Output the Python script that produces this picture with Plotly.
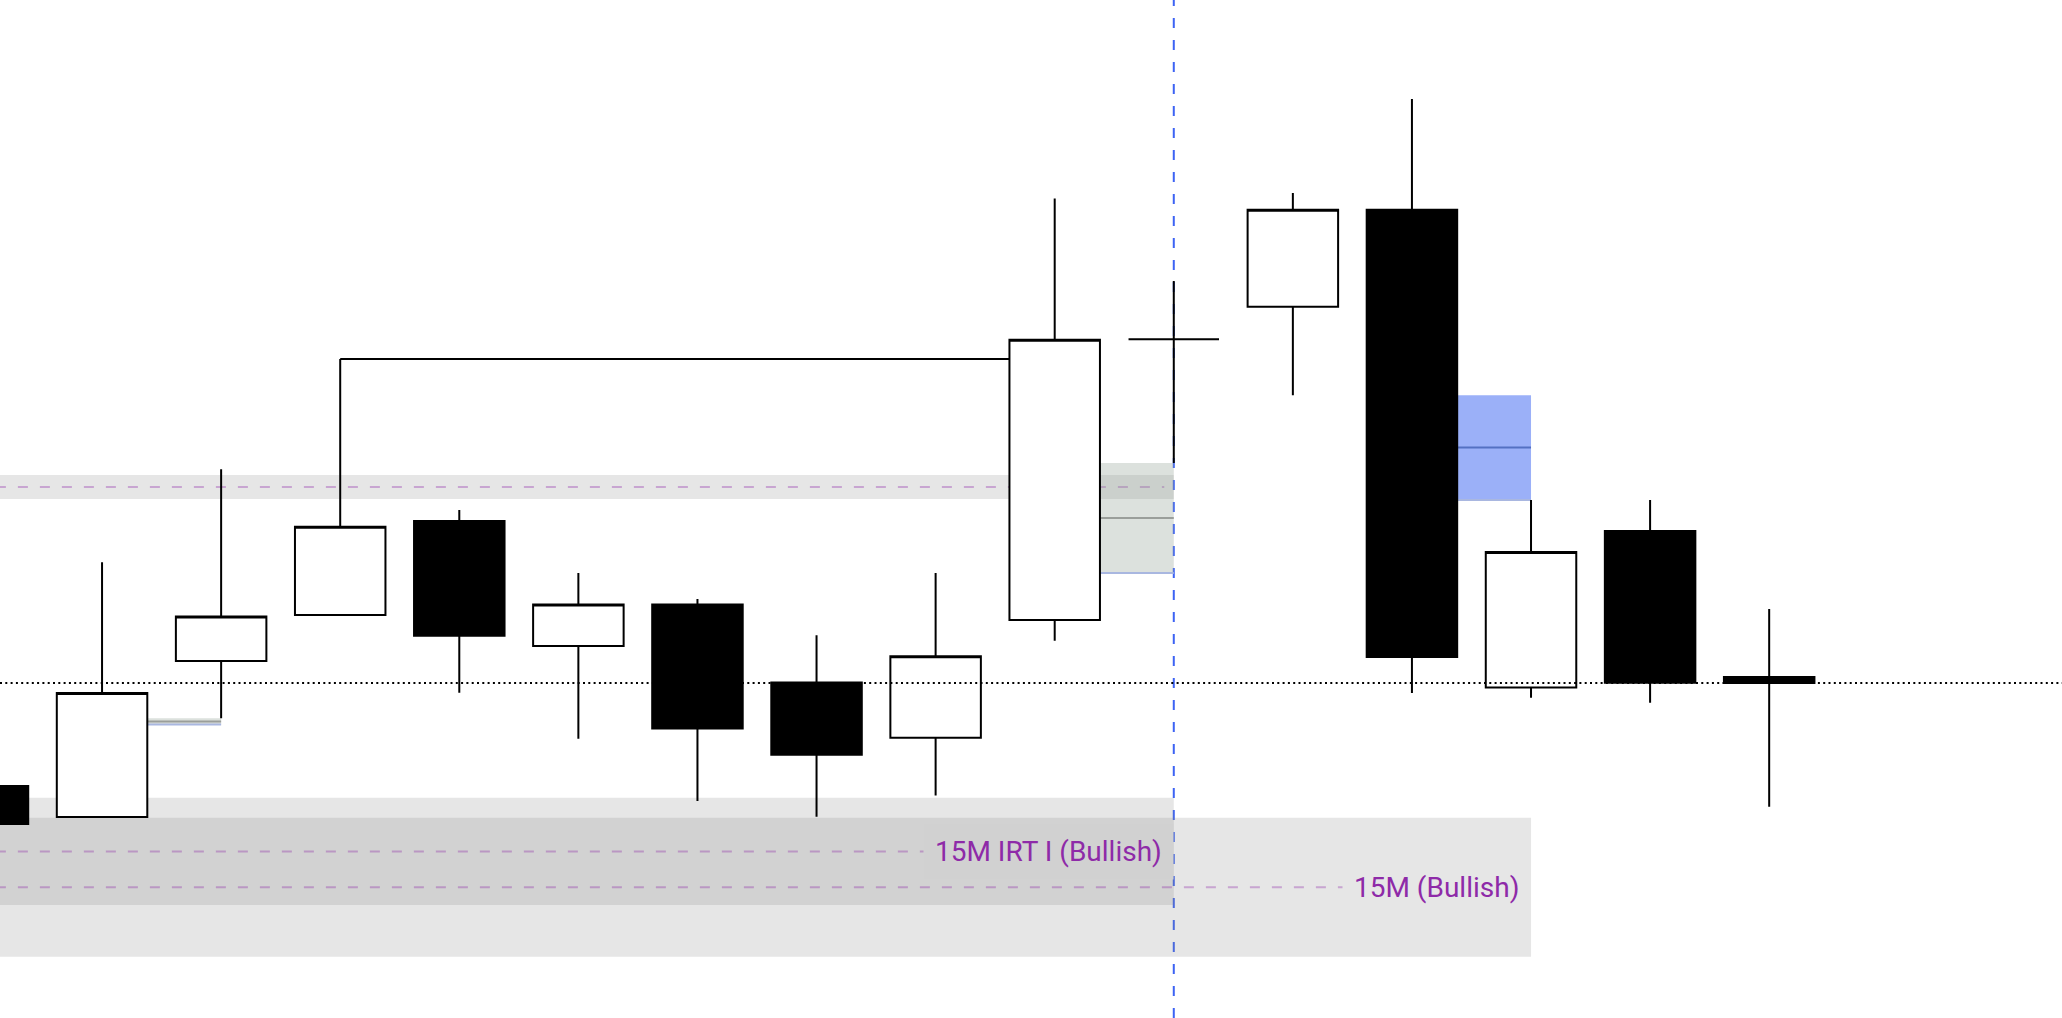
import plotly.graph_objects as go

# ---------------- data ----------------
candle_idx = list(range(16))
opens  = [140.23, 137.87, 149.73, 153.23, 160.38, 150.87, 154.04, 148.10,
          143.90, 152.85, 174.20, 176.68, 184.05, 147.73, 159.62, 148.52]
highs  = [144.90, 157.24, 164.31, 172.70, 161.22, 156.43, 154.45, 151.70,
          156.43, 184.90, 178.63, 185.32, 192.47, 161.98, 161.98, 153.69]
lows   = [137.00, 137.87, 145.38, 153.23, 147.33, 143.83, 139.10, 137.90,
          139.50, 151.28, 164.79, 169.95, 147.30, 146.94, 146.57, 138.66]
closes = [137.34, 147.30, 153.13, 159.95, 151.66, 154.04, 144.60, 142.60,
          150.10, 174.17, 174.20, 184.05, 150.04, 158.02, 148.09, 148.06]

# horizontal zones
zone_labels = ["", "15M IRT I (Bullish)", "15M (Bullish)"]
zone_tops = [163.88, 139.34, 137.82]
zone_bottoms = [162.05, 131.18, 127.25]
zone_ends = [10, 10, 13]

# fair value gaps: middle candle index and direction
fvg_middle = [1, 9, 12]
fvg_dir = ["bull", "bull", "bear"]

# swept high: from candle 3's high to candle 9
sweep_from, sweep_to = 3, 9
# vertical time marker
marker_x = 10

# ---------------- styles ----------------
BOXGAP = 0.24
HALF_W = (1 - BOXGAP) / 2
ZONE_ALPHA = 0.2
PURPLE = "#8e2aa8"
PURPLE_LINE = "rgba(142,42,168,0.35)"
BLUE = "#3d63f4"
FONT = "Roboto"

fig = go.Figure()
fig.add_trace(go.Candlestick(
    x=candle_idx, open=opens, high=highs, low=lows, close=closes,
    increasing=dict(fillcolor="white", line=dict(color="black", width=2)),
    decreasing=dict(fillcolor="black", line=dict(color="black", width=2)),
    whiskerwidth=0, showlegend=False, hoverinfo="skip",
))

shapes = []
annotations = []
x_left = -1
# zones
for lab, top, bot, xe in zip(zone_labels, zone_tops, zone_bottoms, zone_ends):
    shapes.append(dict(type="rect", xref="x", yref="y", x0=x_left, x1=xe,
                       y0=bot, y1=top, fillcolor=f"rgba(128,128,128,{ZONE_ALPHA})",
                       line=dict(width=0), layer="below"))
for lab, top, bot, xe in zip(zone_labels, zone_tops, zone_bottoms, zone_ends):
    mid = (top + bot) / 2
    xend = xe if lab else xe - 0.08
    shapes.append(dict(type="line", xref="x", yref="y", x0=x_left, x1=xend,
                       y0=mid, y1=mid, line=dict(color=PURPLE_LINE, width=2, dash="10px,12px"),
                       layer="below"))

# background colours behind labels (composite of overlapping zones)
def composite(n):
    v = 255.0
    for _ in range(n):
        v = v + ZONE_ALPHA * (128 - v)
    v = round(v)
    return f"rgb({v},{v},{v})"

for i, (lab, top, bot, xe) in enumerate(zip(zone_labels, zone_tops, zone_bottoms, zone_ends)):
    if not lab:
        continue
    mid = (top + bot) / 2
    n = sum(1 for t, b, e in zip(zone_tops, zone_bottoms, zone_ends)
            if b <= mid <= t and e >= xe - 1.5)
    annotations.append(dict(x=xe, y=mid, xref="x", yref="y", text=lab,
                            showarrow=False, xanchor="right", yanchor="middle",
                            font=dict(family=FONT, size=28, color=PURPLE),
                            bgcolor=composite(n), borderpad=11))

# vertical dashed marker
shapes.append(dict(type="line", xref="x", yref="paper", x0=marker_x, x1=marker_x,
                   y0=0, y1=1, line=dict(color=BLUE, width=2, dash="10px,12px"),
                   layer="below"))

# sweep line
lvl = highs[sweep_from]
shapes.append(dict(type="line", xref="x", yref="y", x0=sweep_from, x1=sweep_to,
                   y0=lvl, y1=lvl, line=dict(color="black", width=2), layer="below"))

# fair value gaps
for m, d in zip(fvg_middle, fvg_dir):
    if d == "bull":
        bot, top = highs[m - 1], lows[m + 1]
        fill = "rgba(150,165,152,0.33)"
        mid_col = "#9a9e9a"
    else:
        top, bot = lows[m - 1], highs[m + 1]
        fill = "#9bb0f8"
        mid_col = "#5470c2"
    x0, x1 = m + HALF_W, m + 1
    shapes.append(dict(type="rect", xref="x", yref="y", x0=x0, x1=x1, y0=bot, y1=top,
                       fillcolor=fill, line=dict(width=0), layer="below"))
    shapes.append(dict(type="line", xref="x", yref="y", x0=x0, x1=x1,
                       y0=(top + bot) / 2, y1=(top + bot) / 2,
                       line=dict(color=mid_col, width=2), layer="below"))
    shapes.append(dict(type="line", xref="x", yref="y", x0=x0, x1=x1, y0=bot, y1=bot,
                       line=dict(color="#a9b7e0", width=2), layer="below"))

# last price dotted line
shapes.append(dict(type="line", xref="paper", yref="y", x0=0, x1=1,
                   y0=closes[-1], y1=closes[-1],
                   line=dict(color="black", width=2, dash="2px,3.3px"), layer="above"))

fig.update_layout(
    width=2062, height=1018,
    margin=dict(l=0, r=0, t=0, b=0),
    paper_bgcolor="white", plot_bgcolor="white",
    boxgap=BOXGAP, boxgroupgap=0,
    xaxis=dict(range=[0.143, 17.459], visible=False, showgrid=False,
               rangeslider=dict(visible=False), fixedrange=True),
    yaxis=dict(range=[122.59, 200.0], visible=False, showgrid=False, fixedrange=True),
    shapes=shapes, annotations=annotations,
    showlegend=False, hovermode=False,
)

fig.write_html("out.html", config={"displayModeBar": False},
               post_script="document.body.style.margin='0';document.body.style.overflow='hidden';")
